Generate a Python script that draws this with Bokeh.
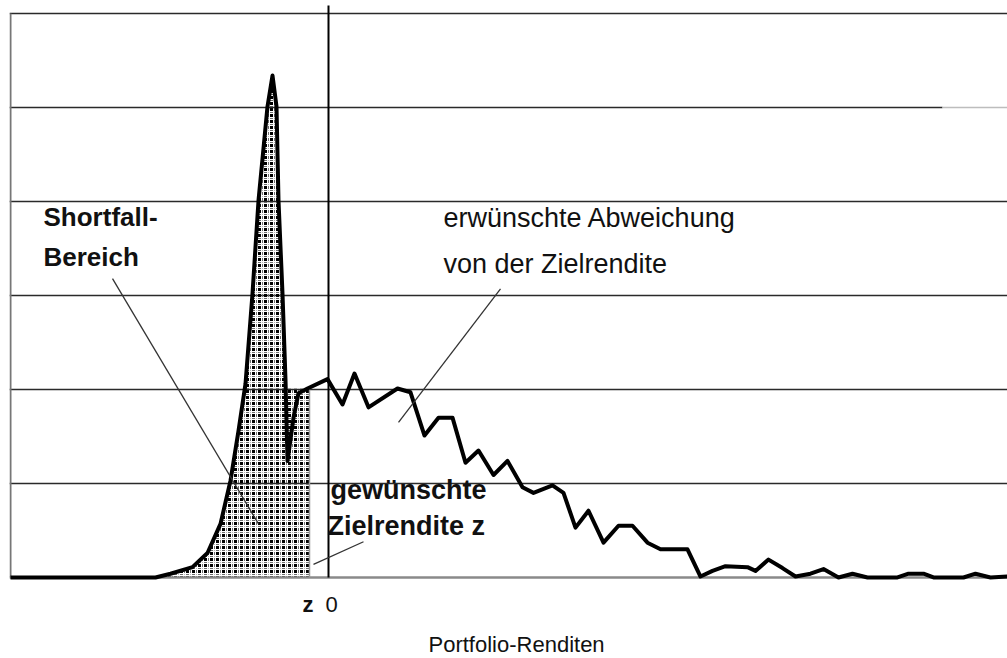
import zlib, struct, base64
from bokeh.plotting import figure
from bokeh.models import Range1d, FixedTicker, Label, ImageURLTexture
from bokeh.embed import file_html
from bokeh.resources import INLINE

# ---- data (x: portfolio return, y: frequency) ----
returns = [-31.8, -17.3, -15.8, -13.6, -12.1, -10.8, -9.8, -9.0, -8.3, -7.6, -7.0, -6.1,
           -5.6, -5.2, -5.0, -4.6, -4.3, -4.1, -3.5, -3.0, -2.1, -0.1, 1.4, 2.6, 4.0,
           6.9, 8.2, 9.6, 11.0, 12.4, 13.7, 15.0, 16.5, 17.9, 19.4, 20.5, 22.4, 23.5,
           24.7, 26.0, 27.5, 29.0, 30.4, 31.9, 33.2, 35.9, 37.2, 38.4, 39.7, 41.9, 42.7,
           44.0, 45.4, 46.7, 48.2, 49.5, 51.0, 52.4, 53.9, 56.9, 58.0, 59.5, 60.5, 63.5,
           64.7, 66.2, 67.9]
frequency = [0, 0, 0.4, 1.1, 2.6, 5.7, 10.3, 15.6, 20.6, 30.2, 40.1, 50.1,
             53.4, 50.1, 40.1, 30.2, 21.0, 12.4, 17.0, 19.6, 20.1, 21.1, 18.4, 21.7, 18.1,
             20.1, 19.7, 15.1, 17.0, 17.0, 12.2, 13.5, 10.9, 12.4, 9.6, 9.0, 9.8, 9.0,
             5.3, 7.1, 3.7, 5.5, 5.5, 3.7, 3.0, 3.0, 0.1, 0.7, 1.2, 1.1, 0.7,
             1.9, 1.0, 0.1, 0.4, 0.9, 0, 0.4, 0, 0, 0.4, 0.4, 0, 0,
             0.4, 0, 0.1]

shortfall_x = [-17.3, -15.8, -13.6, -12.1, -10.8, -9.8, -9.0, -8.3, -7.6, -7.0, -6.1, -5.6,
               -5.2, -5.0, -4.6, -4.4, -1.9, -1.9]
shortfall_y = [0, 0.4, 1.1, 2.6, 5.7, 10.3, 15.6, 20.6, 30.2, 40.1, 50.1, 53.4,
               50.1, 40.1, 30.2, 20.1, 20.1, 0]

target_return = 0.0
shortfall_edge = -1.9
shortfall_top = 20.1
grid_levels = [10, 20, 30, 40, 60]

X0, X1 = -31.9, 67.9
Y0, Y1 = -8.62, 61.38


# ---- small raster tile for the dotted shortfall fill ----
def make_tile():
    n = 6
    rows = []
    for r in range(n):
        row = []
        for c in range(n):
            if r < 3 and c < 3:
                px = (0, 0, 0, 255)
            elif (r < 3 and c == 4) or (r == 4 and c < 3):
                px = (110, 110, 110, 255)
            elif r == 4 and c == 4:
                px = (190, 190, 190, 255)
            else:
                px = (255, 255, 255, 0)
            row.append(px)
        rows.append(row)
    raw = b"".join(b"\x00" + bytes([v for px in row for v in px]) for row in rows)

    def chunk(t, d):
        return struct.pack(">I", len(d)) + t + d + struct.pack(">I", zlib.crc32(t + d) & 0xffffffff)

    data = (b"\x89PNG\r\n\x1a\n"
            + chunk(b"IHDR", struct.pack(">IIBBBBB", n, n, 8, 6, 0, 0, 0))
            + chunk(b"IDAT", zlib.compress(raw))
            + chunk(b"IEND", b""))
    return "data:image/png;base64," + base64.b64encode(data).decode()


p = figure(width=1007, height=658, output_backend="svg", toolbar_location=None,
           x_range=Range1d(X0, X1), y_range=Range1d(Y0, Y1),
           min_border_left=9, min_border_right=0, min_border_top=0, min_border_bottom=0)
p.xaxis.visible = False
p.yaxis.visible = False
p.xgrid.visible = False
p.ygrid.ticker = FixedTicker(ticks=grid_levels)
p.ygrid.grid_line_color = "#2a2a2a"
p.ygrid.grid_line_width = 1.6
p.outline_line_color = None
p.background_fill_color = "white"
p.border_fill_color = "white"

# shortfall area (dotted raster)
p.patch(shortfall_x, shortfall_y, fill_color=None, line_color=None,
        hatch_pattern="raster",
        hatch_extra={"raster": ImageURLTexture(url=make_tile(), repetition="repeat")})

# grid level 50 (fades out at the right)
p.segment(x0=[X0, 61.4], y0=[50, 50], x1=[61.4, X1], y1=[50, 50],
          line_color=["#2a2a2a", "#bdbdbd"], line_width=1.6)

# frame left border and baseline
p.segment(x0=[-31.8], y0=[0], x1=[-31.8], y1=[60], line_color="#777777", line_width=2)
p.segment(x0=[X0], y0=[0], x1=[X1], y1=[0], line_color="#8a8a8a", line_width=2.5)

# threshold edge and target-return line
p.segment(x0=[shortfall_edge], y0=[0], x1=[shortfall_edge], y1=[shortfall_top],
          line_color="#999999", line_width=1.5)
p.segment(x0=[target_return], y0=[0], x1=[target_return], y1=[60.85],
          line_color="black", line_width=2)

# distribution curve
p.line(returns, frequency, line_color="black", line_width=4, line_join="round")

# pointer lines
p.segment(x0=[-21.6, 17.2, 3.5], y0=[31.8, 30.7, 3.8],
          x1=[-7.0, 7.0, -1.5], y1=[5.7, 16.5, 1.4],
          line_color="#333333", line_width=1.3)

FONT = "Liberation Sans"
DY = 0.8  # lift labels to the reference baselines


def lab(x, y, t, size, bold=False):
    p.add_layout(Label(x=x, y=y + DY, text=t, text_font=FONT, text_font_size=f"{size}px",
                       text_font_style="bold" if bold else "normal",
                       text_baseline="alphabetic", text_align="left",
                       text_color="#111111"))


lab(-28.5, 37.5, "Shortfall-", 26, True)
lab(-28.5, 33.3, "Bereich", 26, True)
lab(11.5, 37.4, "erwünschte Abweichung", 27)
lab(11.5, 32.6, "von der Zielrendite", 27)
lab(0.2, 8.5, "gewünschte", 27, True)
lab(-0.1, 4.7, "Zielrendite z", 27, True)
lab(-2.6, -3.7, "z", 22, True)
lab(-0.3, -3.7, "0", 22)
lab(10.0, -7.95, "Portfolio-Renditen", 22)

open("out.html", "w").write(file_html(p, INLINE))
